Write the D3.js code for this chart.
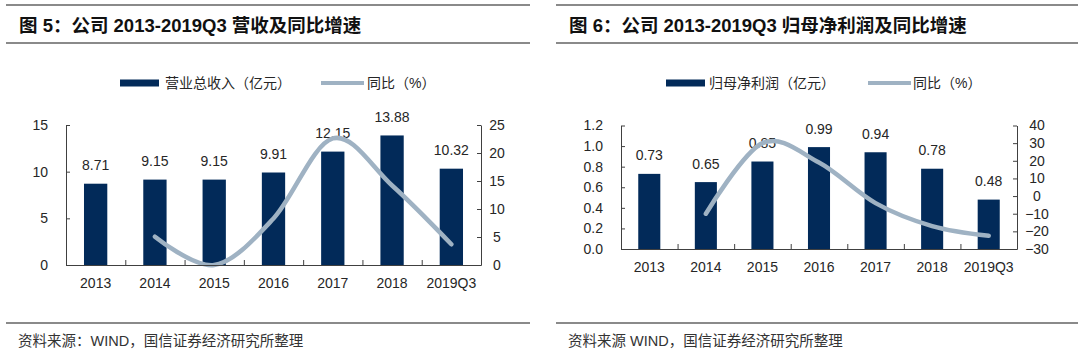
<!DOCTYPE html>
<html>
<head>
<meta charset="utf-8">
<script src="https://cdn.jsdelivr.net/npm/d3@7/dist/d3.min.js"></script>
<style>
  html, body { margin: 0; padding: 0; background: #fff; }
  svg { display: block; }
  text { font-family: "Liberation Sans", Arial, "Noto Sans CJK SC", sans-serif; }
</style>
</head>
<body>
<svg id="chart" width="1080" height="352"></svg>
<script>
// ---------- data ----------
const categories = ["2013", "2014", "2015", "2016", "2017", "2018", "2019Q3"];
const revenue = [8.71, 9.15, 9.15, 9.91, 12.15, 13.88, 10.32];
const revenueYoY = [null, 5.05, 0.0, 8.3, 22.6, 14.2, 3.7];
const profit = [0.73, 0.65, 0.85, 0.99, 0.94, 0.78, 0.48];
const profitYoY = [null, -10, 30, 19, -4, -17, -22.5];
const revTicksLeft = [0, 5, 10, 15];
const revTicksRight = [0, 5, 10, 15, 20, 25];
const profTicksLeft = [0, 0.2, 0.4, 0.6, 0.8, 1.0, 1.2];
const profTicksRight = [-30, -20, -10, 0, 10, 20, 30, 40];

const titles = ["图 5：公司 2013-2019Q3 营收及同比增速", "图 6：公司 2013-2019Q3 归母净利润及同比增速"];
const barLegends = ["营业总收入（亿元）", "归母净利润（亿元）"];
const lineLegend = "同比（%）";
const sources = ["资料来源：WIND，国信证券经济研究所整理", "资料来源 WIND，国信证券经济研究所整理"];

// ---------- style ----------
const BAR = "#022a59";
const LINE = "#9fb2c3";
const RULE = "#8a8a8a";
const TXT = "#262626";

const svg = d3.select("#chart");

const panels = [
  {
    x0: 66, x1: 481, yTop: 125, yBot: 265,
    left: revenue, right: revenueYoY,
    lDomain: [0, 15], rDomain: [0, 25],
    lTicks: revTicksLeft, rTicks: revTicksRight,
    lFmt: d3.format("d"), rFmt: d3.format("d"), valFmt: d3.format(".2f"),
    pad: 0.607, rLabelOff: 16,
    ruleX: [6, 530], titleX: 19, legend: [120, 159, 165, 321, 364, 367],
    title: titles[0], barLegend: barLegends[0], source: sources[0], sourceX: 18
  },
  {
    x0: 621, x1: 1017, yTop: 125.5, yBot: 249,
    left: profit, right: profitYoY,
    lDomain: [0, 1.2], rDomain: [-30, 40],
    lTicks: profTicksLeft, rTicks: profTicksRight,
    lFmt: d3.format(".1f"), rFmt: d3.format("d"), valFmt: d3.format(".2f"),
    pad: 0.61, rLabelOff: 20,
    ruleX: [556, 1078], titleX: 569, legend: [666, 705, 709, 868, 911, 913],
    title: titles[1], barLegend: barLegends[1], source: sources[1], sourceX: 568
  }
];

panels.forEach(p => {
  const g = svg.append("g");

  // header / footer rules
  [5, 43, 323].forEach(y => {
    g.append("line").attr("x1", p.ruleX[0]).attr("x2", p.ruleX[1])
      .attr("y1", y).attr("y2", y).attr("stroke", RULE).attr("stroke-width", 2);
  });

  // title
  g.append("text").attr("x", p.titleX).attr("y", 31.5)
    .attr("font-size", 18.5).attr("font-weight", "bold").attr("fill", "#111")
    .text(p.title);

  // legend
  const ly = 83;
  const L = p.legend;
  g.append("rect").attr("x", L[0]).attr("y", ly - 3.5).attr("width", L[1] - L[0]).attr("height", 7).attr("fill", BAR);
  g.append("text").attr("x", L[2]).attr("y", ly + 5).attr("font-size", 14).attr("fill", TXT).text(p.barLegend);
  g.append("line").attr("x1", L[3]).attr("x2", L[4]).attr("y1", ly).attr("y2", ly)
    .attr("stroke", LINE).attr("stroke-width", 4);
  g.append("text").attr("x", L[5]).attr("y", ly + 5).attr("font-size", 14).attr("fill", TXT).text(lineLegend);

  // source
  g.append("text").attr("x", p.sourceX).attr("y", 346).attr("font-size", 14.5).attr("fill", "#333").text(p.source);

  // scales
  const x = d3.scaleBand().domain(categories).range([p.x0, p.x1])
    .paddingInner(p.pad).paddingOuter(p.pad / 2);
  const xEdge = d3.scaleLinear().domain([0, categories.length]).range([p.x0, p.x1]);
  const yL = d3.scaleLinear().domain(p.lDomain).range([p.yBot, p.yTop]);
  const yR = d3.scaleLinear().domain(p.rDomain).range([p.yBot, p.yTop]);

  // bars
  g.append("g").selectAll("rect").data(categories).join("rect")
    .attr("x", d => x(d)).attr("width", x.bandwidth())
    .attr("y", (d, i) => yL(p.left[i])).attr("height", (d, i) => yL(p.lDomain[0]) - yL(p.left[i]))
    .attr("fill", BAR);

  // value labels
  g.append("g").selectAll("text").data(categories).join("text")
    .attr("x", d => x(d) + x.bandwidth() / 2)
    .attr("y", (d, i) => yL(p.left[i]) - 13.5)
    .attr("text-anchor", "middle").attr("font-size", 14).attr("fill", TXT)
    .text((d, i) => p.valFmt(p.left[i]));

  // line
  const pts = categories.map((c, i) => [c, p.right[i]]).filter(d => d[1] !== null);
  g.append("path").datum(pts)
    .attr("fill", "none").attr("stroke", LINE).attr("stroke-width", 4.5)
    .attr("stroke-linecap", "round").attr("stroke-linejoin", "round")
    .attr("d", d3.line().x(d => x(d[0]) + x.bandwidth() / 2).y(d => yR(d[1]))
      .curve(d3.curveCardinal.tension(0)));

  // axes
  const axL = g.append("g").attr("transform", `translate(${p.x0},0)`)
    .call(d3.axisLeft(yL).tickValues(p.lTicks).tickFormat(p.lFmt).tickSizeInner(-4).tickSizeOuter(0).tickPadding(18));
  const axR = g.append("g").attr("transform", `translate(${p.x1},0)`)
    .call(d3.axisRight(yR).tickValues(p.rTicks).tickFormat(p.rFmt).tickSizeInner(-4).tickSizeOuter(0).tickPadding(p.rLabelOff));
  axR.selectAll("text").attr("text-anchor", "middle");
  const axX = g.append("g").attr("transform", `translate(0,${p.yBot})`)
    .call(d3.axisBottom(xEdge).tickValues(d3.range(categories.length + 1)).tickFormat("").tickSizeInner(-5).tickSizeOuter(0));
  const axXL = g.append("g").attr("transform", `translate(0,${p.yBot})`)
    .call(d3.axisBottom(x).tickSize(0).tickPadding(13));
  axXL.select(".domain").remove();

  [axL, axR, axX, axXL].forEach(a => {
    a.selectAll(".domain, .tick line").attr("stroke", "#404040").attr("stroke-width", 1);
    a.selectAll("text").attr("font-size", 14).attr("fill", TXT)
      .attr("font-family", "'Liberation Sans', Arial, sans-serif");
  });
});
</script>
</body>
</html>
